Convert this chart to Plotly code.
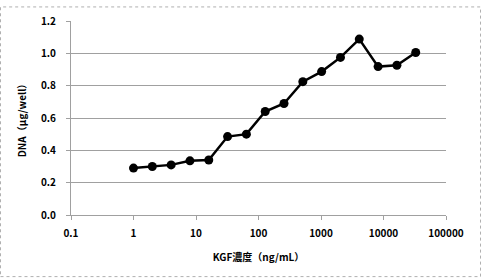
import plotly.graph_objects as go

kgf_conc = [1, 2, 4, 8, 16, 32, 64, 128, 256, 512, 1024, 2048, 4096, 8192, 16384, 32768]
dna = [0.29, 0.30, 0.31, 0.335, 0.34, 0.485, 0.50, 0.64, 0.69, 0.825, 0.887, 0.975, 1.088, 0.918, 0.926, 1.005]
x_ticks = [0.1, 1, 10, 100, 1000, 10000, 100000]
x_tick_text = ["0.1", "1", "10", "100", "1000", "10000", "100000"]
y_ticks = [0.0, 0.2, 0.4, 0.6, 0.8, 1.0, 1.2]
y_tick_text = ["0.0", "0.2", "0.4", "0.6", "0.8", "1.0", "1.2"]

W, H = 481, 279
L, R, T, B = 71, 35, 15, 64
FONT = "Noto Sans CJK JP, DejaVu Sans, sans-serif"

fig = go.Figure()
fig.add_trace(go.Scatter(
    x=kgf_conc, y=dna, mode="lines+markers",
    line=dict(color="black", width=2.5),
    marker=dict(color="black", size=9),
    showlegend=False,
))

fig.update_layout(
    width=W, height=H,
    margin=dict(l=L, r=R, t=T, b=B),
    paper_bgcolor="white", plot_bgcolor="white",
    font=dict(family=FONT, size=10, color="black", weight="bold"),
    xaxis=dict(
        type="log", range=[-1, 5],
        tickvals=x_ticks, ticktext=x_tick_text,
        showgrid=False, showline=True, linecolor="#a0a0a0", linewidth=1,
        ticks="outside", ticklen=4, tickcolor="#a0a0a0",
        ticklabelstandoff=5,
        tickfont=dict(size=10, weight="bold"),
        title=dict(text="KGF濃度（ng/mL）", font=dict(size=10, weight="bold"), standoff=14),
        zeroline=False,
    ),
    yaxis=dict(
        range=[0, 1.2],
        tickvals=y_ticks, ticktext=y_tick_text,
        showgrid=True, gridcolor="#a0a0a0", gridwidth=1,
        showline=True, linecolor="#a0a0a0", linewidth=1,
        ticks="outside", ticklen=4, tickcolor="#a0a0a0",
        ticklabelstandoff=8,
        tickfont=dict(size=10, weight="bold"),
        title=dict(text="DNA（μg/well）", font=dict(size=10, weight="bold"), standoff=12),
        zeroline=False,
    ),
)

pw = W - L - R
ph = H - T - B
fig.add_shape(
    type="rect", xref="paper", yref="paper",
    x0=(0.5 - L) / pw, x1=(W - 0.5 - L) / pw,
    y0=(-(B - 0.5)) / ph, y1=(ph + T - 0.5) / ph,
    line=dict(color="#b0b0b0", width=1, dash="dot"),
    layer="below",
)

fig.write_html("out.html")
